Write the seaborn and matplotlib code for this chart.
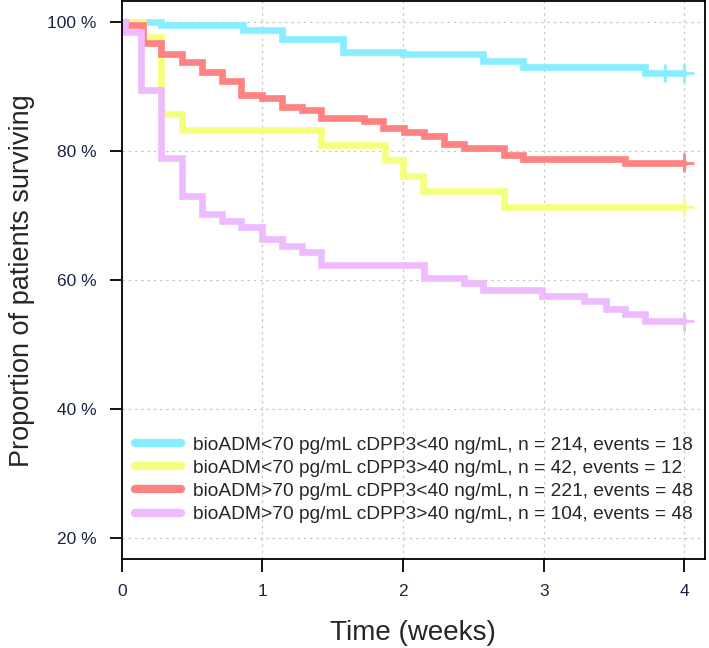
import matplotlib
matplotlib.use("Agg")
import matplotlib.pyplot as plt
import seaborn as sns
import pandas as pd

# ---------------------------------------------
# Данные: кривые Каплана-Мейера (время в неделях)
# ---------------------------------------------
groups = [
    "bioADM<70 pg/mL cDPP3<40 ng/mL, n = 214, events = 18",
    "bioADM<70 pg/mL cDPP3>40 ng/mL, n = 42, events = 12",
    "bioADM>70 pg/mL cDPP3<40 ng/mL, n = 221, events = 48",
    "bioADM>70 pg/mL cDPP3>40 ng/mL, n = 104, events = 48",
]
colors = ["#88EEFF", "#F5FF7E", "#FF8282", "#EEBBFF"]

t_cyan = [0, 0.28, 0.86, 1.14, 1.57, 2.0, 2.57, 2.85, 3.72, 4.0]
s_cyan = [1.0, 0.996, 0.987, 0.974, 0.954, 0.950, 0.939, 0.930, 0.921, 0.921]

t_yellow = [0, 0.15, 0.28, 0.43, 1.42, 1.87, 2.0, 2.14, 2.72, 4.0]
s_yellow = [1.0, 0.976, 0.857, 0.833, 0.810, 0.786, 0.762, 0.738, 0.714, 0.714]

t_red = [0, 0.02, 0.15, 0.28, 0.43, 0.57, 0.71, 0.85, 1.0, 1.14, 1.28, 1.42,
         1.72, 1.86, 2.01, 2.15, 2.29, 2.43, 2.72, 2.85, 3.58, 4.0]
s_red = [1.0, 0.995, 0.968, 0.951, 0.938, 0.923, 0.909, 0.887, 0.882, 0.869, 0.864, 0.851,
         0.847, 0.836, 0.830, 0.824, 0.811, 0.805, 0.794, 0.787, 0.782, 0.782]

t_lav = [0, 0.02, 0.14, 0.28, 0.43, 0.57, 0.71, 0.85, 1.0, 1.14, 1.28, 1.42,
         2.15, 2.43, 2.57, 2.99, 3.29, 3.44, 3.58, 3.72, 4.0]
s_lav = [1.0, 0.984, 0.895, 0.789, 0.730, 0.702, 0.691, 0.682, 0.663, 0.653, 0.643, 0.624,
         0.604, 0.595, 0.585, 0.576, 0.567, 0.556, 0.547, 0.536, 0.536]

# цензурированные наблюдения (+)
cens_t = [3.86, 4.0, 4.0, 4.0, 4.0]
cens_s = [0.921, 0.921, 0.714, 0.782, 0.536]
cens_g = [groups[0], groups[0], groups[1], groups[2], groups[3]]

x_ticks = [0, 1, 2, 3, 4]
y_ticks = [0.2, 0.4, 0.6, 0.8, 1.0]
y_labels = ["20 %", "40 %", "60 %", "80 %", "100 %"]


def build_frame():
    parts = []
    for g, t, s in zip(groups, [t_cyan, t_yellow, t_red, t_lav],
                       [s_cyan, s_yellow, s_red, s_lav]):
        parts.append(pd.DataFrame({"time": t, "surv": s, "group": g}))
    return pd.concat(parts, ignore_index=True)


def main():
    sns.set_style("ticks")
    plt.rcParams["font.family"] = ["Liberation Sans", "DejaVu Sans"]

    df = build_frame()
    cens = pd.DataFrame({"time": cens_t, "surv": cens_s, "group": cens_g})
    palette = dict(zip(groups, colors))

    fig = plt.figure(figsize=(7.09, 6.48), dpi=100)
    ax = fig.add_axes([0.1717, 0.1373, 0.8227, 0.8607])

    sns.lineplot(data=df, x="time", y="surv", hue="group", hue_order=groups,
                 palette=palette, drawstyle="steps-post", estimator=None,
                 sort=False, linewidth=4.8, solid_joinstyle="miter",
                 solid_capstyle="round", ax=ax)
    sns.scatterplot(data=cens, x="time", y="surv", hue="group", hue_order=groups,
                    palette=palette, marker="+", s=180, linewidth=2,
                    legend=False, ax=ax, zorder=3)

    ax.set_xlim(0, 4.147)
    ax.set_ylim(0.168, 1.032)
    ax.set_xticks(x_ticks)
    ax.set_yticks(y_ticks)
    ax.set_yticklabels(y_labels)
    ax.grid(True, color="#c8c8c8", linestyle=(0, (2, 3)), linewidth=0.9)
    ax.set_axisbelow(True)
    for sp in ax.spines.values():
        sp.set_color("black")
        sp.set_linewidth(1.3)
    ax.tick_params(axis="both", direction="out", length=9, width=1.3,
                   labelsize=12.5, pad=9, colors="black", labelcolor="#1c2340")

    ax.set_xlabel("Time (weeks)", fontsize=20, labelpad=15)
    ax.set_ylabel("Proportion of patients surviving", fontsize=19.5, labelpad=9)

    handles, labels = ax.get_legend_handles_labels()
    leg = ax.legend(handles, labels, loc="lower left", bbox_to_anchor=(0.0, 0.04),
                    frameon=False, fontsize=13.8, handlelength=2.4,
                    handletextpad=0.6, labelspacing=0.3, borderaxespad=0.3)
    for line in leg.get_lines():
        line.set_linewidth(6)

    fig.savefig("out.png", dpi=100)


if __name__ == "__main__":
    main()
